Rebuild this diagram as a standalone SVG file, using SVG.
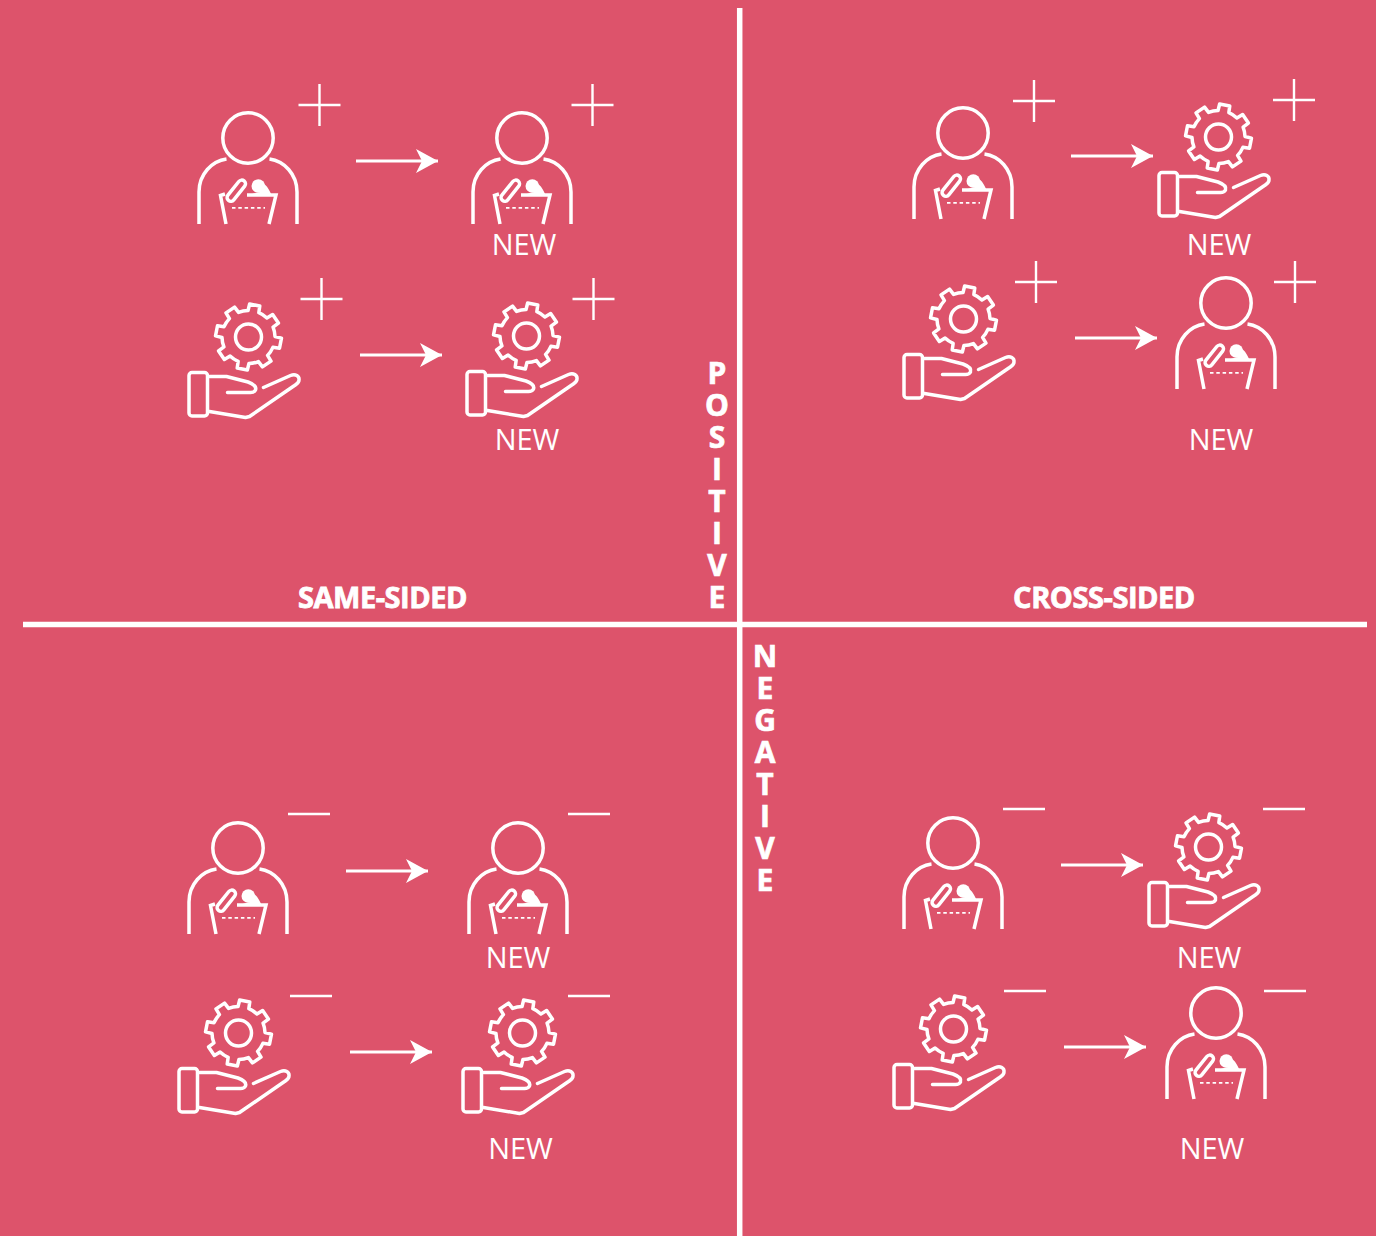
<svg xmlns="http://www.w3.org/2000/svg" width="1376" height="1236" viewBox="0 0 1376 1236">
<style>
.s{fill:none;stroke:#fff;stroke-width:3.500}
.r{stroke-linecap:round;stroke-linejoin:round}
.sign{fill:none;stroke:#fff;stroke-width:2.400}
.line{fill:none;stroke:#fff;stroke-width:5.500}
.arr{fill:none;stroke:#fff;stroke-width:3}
.new{font-family:"Open Sans",sans-serif;font-size:29px;fill:#fff;text-anchor:middle}
.head{font-family:"Open Sans",sans-serif;font-weight:700;font-size:29px;fill:#fff;stroke:#fff;stroke-width:.8;text-anchor:middle;letter-spacing:-.45px}
.vert{font-family:"Open Sans",sans-serif;font-weight:700;font-size:30px;fill:#fff;stroke:#fff;stroke-width:.7;text-anchor:middle}
</style>
<defs>
<marker id="ah" markerUnits="userSpaceOnUse" markerWidth="26" markerHeight="26" refX="22" refY="12" orient="auto" viewBox="0 0 26 26"><path d="M0 0 L22 12 L0 24 L6 12 Z" fill="#fff"/></marker>
<g id="person">
<circle class="s" cx="0" cy="0" r="25.200"/>
<path class="s" d="M-49 86V54C-49 36-36 23-21.500 21M49 86V54C49 36 36 23 21.500 21"/>
<path class="s" d="M-22 86L-27.500 57.500L-23 56M21 86L28 57H-1"/>
<path class="s r" transform="translate(-11.700 52.700) rotate(38.600)" d="M-3.750 -8.750a3.750 3.750 0 0 1 7.500 0v17.500a3.750 3.750 0 0 1 -7.500 0z"/>
<circle cx="10.300" cy="48" r="6.800" fill="#fff"/>
<path d="M-1 58C3 56 8 55 12 54L16 46C19 48 21 51 24 58z" fill="#fff"/>
<path d="M-16 69.800H17" fill="none" stroke="#fff" stroke-width="1.800" stroke-dasharray="3.500 2.800"/>
</g>
<g id="hand">
<g transform="rotate(11)"><path class="s r" d="M-5.510 -25.920L-5.160 -32.590L5.160 -32.590L5.510 -25.920A26.500 26.500 0 0 1 14.430 -22.230L19.400 -26.700L26.700 -19.400L22.230 -14.430A26.500 26.500 0 0 1 25.920 -5.510L32.590 -5.160L32.590 5.160L25.920 5.510A26.500 26.500 0 0 1 22.230 14.430L26.700 19.400L19.400 26.700L14.430 22.230A26.500 26.500 0 0 1 5.510 25.920L5.160 32.590L-5.160 32.590L-5.510 25.920A26.500 26.500 0 0 1 -14.430 22.230L-19.400 26.700L-26.700 19.400L-22.230 14.430A26.500 26.500 0 0 1 -25.920 5.510L-32.590 5.160L-32.590 -5.160L-25.920 -5.510A26.500 26.500 0 0 1 -22.230 -14.430L-26.700 -19.400L-19.400 -26.700L-14.430 -22.230A26.500 26.500 0 0 1 -5.510 -25.920Z"/></g>
<circle class="s" cx="0" cy="0" r="13"/>
<rect class="s" x="-59.500" y="35.500" width="18.500" height="43.500" rx="3"/>
<path class="s r" d="M-39 39.500H-22L-0.500 45C5 47 8 50 7 53C6 55 4 55.500 2 55.500H-21M15 50.500L42 38.500C47 36.500 51 39 50.500 43C50.500 46 48 47 46 48.500L1 79.500L-3 80.500L-39 74.500"/>
</g>
<path id="plus" class="sign" d="M-21 0H21M0 -21V21"/>
<path id="minus" class="sign" d="M-21 0H21"/>
</defs>
<rect width="1376" height="1236" fill="#DD536B"/>
<g id="dividers">
<path class="line" d="M739.700 8V1236M23 624.500H1367"/>
</g>
<g id="connectors">
<path class="arr" marker-end="url(#ah)" d="M356 161H438"/>
<path class="arr" marker-end="url(#ah)" d="M360 355H442"/>
<path class="arr" marker-end="url(#ah)" d="M1071 156H1153"/>
<path class="arr" marker-end="url(#ah)" d="M1075 338H1157"/>
<path class="arr" marker-end="url(#ah)" d="M346 871H428"/>
<path class="arr" marker-end="url(#ah)" d="M350 1052H432"/>
<path class="arr" marker-end="url(#ah)" d="M1061 865H1143"/>
<path class="arr" marker-end="url(#ah)" d="M1064 1047H1146"/>
</g>
<g id="tl-a"><use href="#person" x="248" y="138"/><use href="#plus" x="319.500" y="105"/></g>
<g id="tl-b"><use href="#person" x="522" y="138"/><use href="#plus" x="592.500" y="105"/><text class="new" x="524" y="254.500">NEW</text></g>
<g id="tl-c"><use href="#hand" x="248.500" y="337"/><use href="#plus" x="321.500" y="299"/></g>
<g id="tl-d"><use href="#hand" x="526.500" y="336"/><use href="#plus" x="593.500" y="299"/><text class="new" x="527" y="449.500">NEW</text></g>
<g id="tr-a"><use href="#person" x="963" y="133"/><use href="#plus" x="1034" y="101"/></g>
<g id="tr-b"><use href="#hand" x="1218.500" y="137"/><use href="#plus" x="1294" y="100"/><text class="new" x="1219" y="254.500">NEW</text></g>
<g id="tr-c"><use href="#hand" x="963.500" y="319"/><use href="#plus" x="1036" y="282"/></g>
<g id="tr-d"><use href="#person" x="1226" y="303"/><use href="#plus" x="1295" y="282"/><text class="new" x="1221" y="449.500">NEW</text></g>
<g id="bl-a"><use href="#person" x="238" y="848"/><use href="#minus" x="309" y="814"/></g>
<g id="bl-b"><use href="#person" x="518" y="848"/><use href="#minus" x="589" y="814"/><text class="new" x="518" y="967.500">NEW</text></g>
<g id="bl-c"><use href="#hand" x="238.500" y="1033"/><use href="#minus" x="311" y="996"/></g>
<g id="bl-d"><use href="#hand" x="522.500" y="1033"/><use href="#minus" x="589" y="996"/><text class="new" x="520.500" y="1158.500">NEW</text></g>
<g id="br-a"><use href="#person" x="953" y="843"/><use href="#minus" x="1024" y="809"/></g>
<g id="br-b"><use href="#hand" x="1208.500" y="847"/><use href="#minus" x="1284" y="809"/><text class="new" x="1209" y="967.500">NEW</text></g>
<g id="br-c"><use href="#hand" x="953.500" y="1029"/><use href="#minus" x="1025" y="991"/></g>
<g id="br-d"><use href="#person" x="1216" y="1013"/><use href="#minus" x="1285" y="991"/><text class="new" x="1212" y="1158.500">NEW</text></g>
<g id="label-same"><text class="head" x="382.500" y="608">SAME-SIDED</text></g>
<g id="label-cross"><text class="head" x="1104" y="608">CROSS-SIDED</text></g>
<g id="label-positive"><text class="vert" x="717" y="384">P</text><text class="vert" x="717" y="416">O</text><text class="vert" x="717" y="448">S</text><text class="vert" x="717" y="480">I</text><text class="vert" x="717" y="512">T</text><text class="vert" x="717" y="544">I</text><text class="vert" x="717" y="576">V</text><text class="vert" x="717" y="608">E</text></g>
<g id="label-negative"><text class="vert" x="765" y="667">N</text><text class="vert" x="765" y="699">E</text><text class="vert" x="765" y="731">G</text><text class="vert" x="765" y="763">A</text><text class="vert" x="765" y="795">T</text><text class="vert" x="765" y="827">I</text><text class="vert" x="765" y="859">V</text><text class="vert" x="765" y="891">E</text></g>
</svg>
